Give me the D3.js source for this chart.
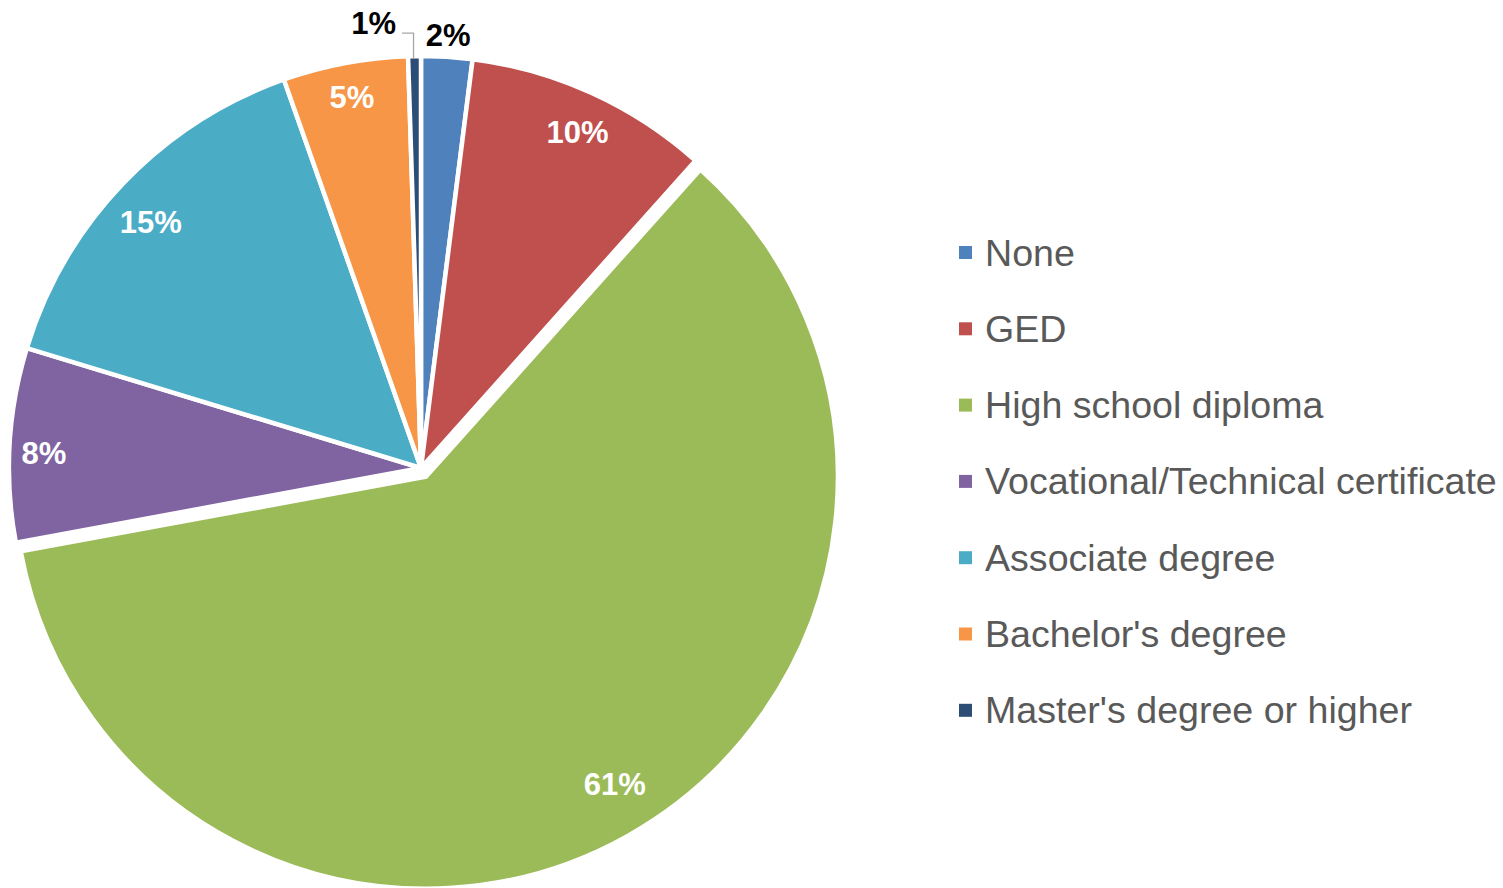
<!DOCTYPE html>
<html>
<head>
<meta charset="utf-8">
<script src="https://cdn.jsdelivr.net/npm/d3@7/dist/d3.min.js"></script>
<style>
  html, body { margin: 0; padding: 0; background: #fff; }
  svg { display: block; font-family: "Liberation Sans", Arial, sans-serif; }
</style>
</head>
<body>
<svg id="chart" width="1503" height="888"></svg>
<script>
// Highest level of education (share of respondents, %)
const categories = ["None", "GED", "High school diploma", "Vocational/Technical certificate",
                    "Associate degree", "Bachelor's degree", "Master's degree or higher"];
const shares = [2.0, 9.6, 60.5, 7.6, 14.9, 4.9, 0.5];
const colors = ["#4F81BD", "#C0504D", "#9BBB59", "#8064A2", "#4BACC6", "#F79646", "#2C4D75"];
// slices whose label sits outside the pie
const outsideLabels = ["None", "Master's degree or higher"];
// slice pulled out from the centre
const explodedSlice = "High school diploma";

// best-fit placement of the inside labels: radius fraction and angular nudge (deg)
const labelFit = {
  "GED": { r: 0.899, da: 0.5 },
  "High school diploma": { r: 0.876, da: -2.2 },
  "Vocational/Technical certificate": { r: 0.916, da: -0.9 },
  "Associate degree": { r: 0.887, da: -1.4 },
  "Bachelor's degree": { r: 0.917, da: 0.1 }
};

const W = 1503, H = 888;
const cx = 421, cy = 468, R = 412;
const explode = 10;
const labelFont = 31;

const svg = d3.select("#chart");
const data = categories.map((c, i) => ({ name: c, value: shares[i], color: colors[i] }));
const total = d3.sum(shares);
const pct = v => Math.round(+(v * 100 / total).toFixed(6)) + "%";

const pie = d3.pie().value(d => d.value).sort(null);
const arcs = pie(data);
const arc = d3.arc().innerRadius(0).outerRadius(R);

const g = svg.append("g").attr("transform", `translate(${cx},${cy})`);

function offsetFor(a) {
  if (a.data.name !== explodedSlice) return [0, 0];
  const m = (a.startAngle + a.endAngle) / 2;
  return [Math.sin(m) * explode, -Math.cos(m) * explode];
}

g.selectAll("path.slice")
  .data(arcs)
  .join("path")
  .attr("class", "slice")
  .attr("transform", a => `translate(${offsetFor(a)})`)
  .attr("d", arc)
  .attr("fill", a => a.data.color)
  .attr("stroke", "#fff")
  .attr("stroke-width", 4.5)
  .attr("stroke-linejoin", "miter");

// labels inside the slices
const inside = arcs.filter(a => !outsideLabels.includes(a.data.name));
g.selectAll("text.inlabel")
  .data(inside)
  .join("text")
  .attr("class", "inlabel")
  .attr("transform", a => {
    const fit = labelFit[a.data.name] || { r: 0.9, da: 0 };
    const [ox, oy] = offsetFor(a);
    const m = (a.startAngle + a.endAngle) / 2 + fit.da * Math.PI / 180;
    const rr = R * fit.r;
    return `translate(${Math.sin(m) * rr + ox},${-Math.cos(m) * rr + oy})`;
  })
  .attr("text-anchor", "middle")
  .attr("dy", "0.36em")
  .attr("fill", "#fff")
  .attr("font-weight", "bold")
  .attr("font-size", labelFont)
  .text(a => pct(a.data.value));

// labels outside the pie
const outside = arcs.filter(a => outsideLabels.includes(a.data.name));
outside.forEach(a => {
  const m = (a.startAngle + a.endAngle) / 2;
  if (a.data.name === "None") {
    const rr = R + 22;
    g.append("text")
      .attr("x", Math.sin(m) * rr).attr("y", -Math.cos(m) * rr)
      .attr("text-anchor", "middle").attr("dy", "0.36em")
      .attr("font-weight", "bold").attr("font-size", labelFont).attr("fill", "#000")
      .text(pct(a.data.value));
  } else {
    // leader line from the slice rim up and over to the label
    const ex = Math.sin(m) * R - 1, ey = -Math.cos(m) * R + 2;
    const ly = ey - 25;
    const lx = ex - 11.5;
    g.append("path")
      .attr("d", `M${ex},${ey}L${ex},${ly}L${lx},${ly}`)
      .attr("fill", "none").attr("stroke", "#A6A6A6").attr("stroke-width", 1.3);
    g.append("text")
      .attr("x", lx - 6).attr("y", ly - 10)
      .attr("text-anchor", "end").attr("dy", "0.36em")
      .attr("font-weight", "bold").attr("font-size", labelFont).attr("fill", "#000")
      .text(pct(a.data.value));
  }
});

// legend
const legend = svg.append("g").attr("transform", "translate(959,252.5)");
const rowH = 76.3;
const items = legend.selectAll("g.item")
  .data(data)
  .join("g")
  .attr("class", "item")
  .attr("transform", (d, i) => `translate(0,${i * rowH})`);
items.append("rect")
  .attr("x", 0).attr("y", -6.5).attr("width", 13).attr("height", 13)
  .attr("fill", d => d.color);
items.append("text")
  .attr("x", 26).attr("y", 13)
  .attr("fill", "#595959")
  .attr("font-size", 37.6)
  .text(d => d.name);
</script>
</body>
</html>
